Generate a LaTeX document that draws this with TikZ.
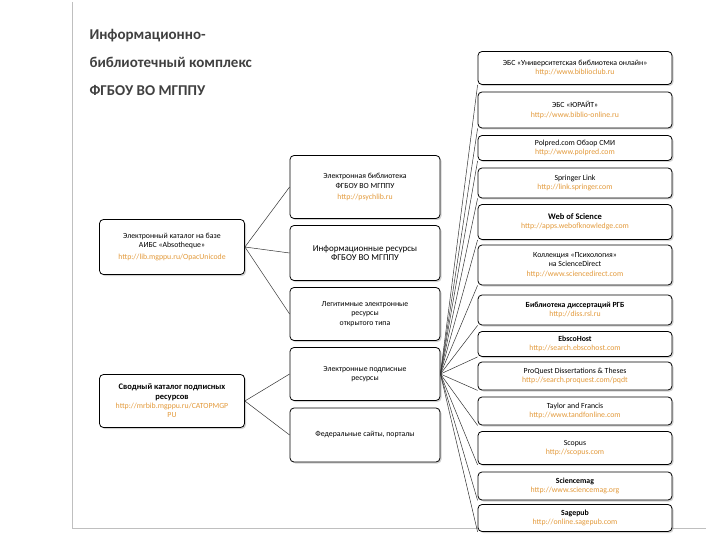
\documentclass[tikz,border=0pt]{standalone}
\usepackage{fontspec}
\setmainfont{Carlito}
\usetikzlibrary{shadows}
\definecolor{lnk}{HTML}{E39A3B}
\definecolor{ttl}{HTML}{404040}
\begin{document}
\begin{tikzpicture}[x=1pt,y=-1pt,
 bx/.style={draw=black,line width=0.8pt,rounded corners=4pt,fill=white,drop shadow={opacity=0.35,shadow xshift=1.5pt,shadow yshift=-1.5pt},align=center,font=\fontsize{7.8}{9.3}\selectfont,inner sep=1pt},
 cn/.style={draw=black!80,line width=0.5pt}]
\useasboundingbox (0,0) rectangle (720,540);
\draw[black!25,line width=1pt] (72,2) -- (72,528) -- (706,528);
\node[anchor=north west,align=left,font=\fontsize{15}{28}\selectfont\bfseries,text=ttl] (title) at (86,26) {Информационно-\\библиотечный комплекс\\ФГБОУ ВО МГППУ};
\newcommand\mb[4]{\node[bx,minimum width=150pt,minimum height=#3pt] (#1) at (365,#2) {#4};}
\mb{m1}{187}{63}{Электронная библиотека\\ФГБОУ ВО МГППУ\\[2pt]{\color{lnk}http://psychlib.ru}}
\mb{m2}{253}{55}{\fontsize{9}{10.5}\selectfont Информационные ресурсы\\\fontsize{9}{10.5}\selectfont ФГБОУ ВО МГППУ}
\mb{m3}{314}{53}{Легитимные электронные\\ресурсы\\открытого типа}
\mb{m4}{374}{53}{Электронные подписные\\ресурсы}
\mb{m5}{435}{54}{Федеральные сайты, порталы}
\newcommand\lb[4]{\node[bx,minimum width=145pt,minimum height=#3pt] (#1) at (172,#2) {#4};}
\lb{l1}{247}{55}{Электронный каталог на базе\\АИБС «Absotheque»\\[2pt]{\color{lnk}http://lib.mgppu.ru/OpacUnicode}}
\lb{l2}{401}{53}{\fontsize{8.5}{9.5}\selectfont\bfseries Сводный каталог подписных\\\fontsize{8.5}{9.5}\selectfont\bfseries ресурсов\\{\color{lnk}http://mrbib.mgppu.ru/CATOPMGP}\\{\color{lnk}PU}}
\newcommand\rb[4]{\node[bx,minimum width=194pt,minimum height=#3pt] (#1) at (575,#2) {#4};}
\rb{r1}{68}{33}{ЭБС «Университетская библиотека онлайн»\\{\color{lnk}http://www.biblioclub.ru}}
\rb{r2}{110}{36}{ЭБС «ЮРАЙТ»\\{\color{lnk}http://www.biblio-online.ru}}
\rb{r3}{148}{25}{Polpred.com Обзор СМИ\\{\color{lnk}http://www.polpred.com}}
\rb{r4}{183}{30}{Springer Link\\{\color{lnk}http://link.springer.com}}
\rb{r5}{222}{35}{{\fontsize{8.5}{9.5}\selectfont\bfseries Web of Science}\\{\color{lnk}http://apps.webofknowledge.com}}
\rb{r6}{265}{40}{Коллекция «Психология»\\на ScienceDirect\\{\color{lnk}http://www.sciencedirect.com}}
\rb{r7}{310}{30}{\bfseries Библиотека диссертаций РГБ\\{\color{lnk}http://diss.rsl.ru}}
\rb{r8}{344}{25}{\bfseries EbscoHost\\{\color{lnk}http://search.ebscohost.com}}
\rb{r9}{376}{28}{ProQuest Dissertations \& Theses\\{\color{lnk}http://search.proquest.com/pqdt}}
\rb{r10}{411}{28}{Taylor and Francis\\{\color{lnk}http://www.tandfonline.com}}
\rb{r11}{448}{33}{Scopus\\{\color{lnk}http://scopus.com}}
\rb{r12}{486}{28}{\bfseries Sciencemag\\{\color{lnk}http://www.sciencemag.org}}
\rb{r13}{518}{27}{\bfseries Sagepub\\{\color{lnk}http://online.sagepub.com}}
\foreach \m in {m1,m2,m3} \draw[cn] (l1.east) -- (\m.west);
\foreach \m in {m4,m5} \draw[cn] (l2.east) -- (\m.west);
\foreach \r in {r1,r2,r3,r4,r5,r6,r7,r8,r9,r10,r11,r12,r13} \draw[cn] (m4.east) -- (\r.south west);
\end{tikzpicture}
\end{document}
